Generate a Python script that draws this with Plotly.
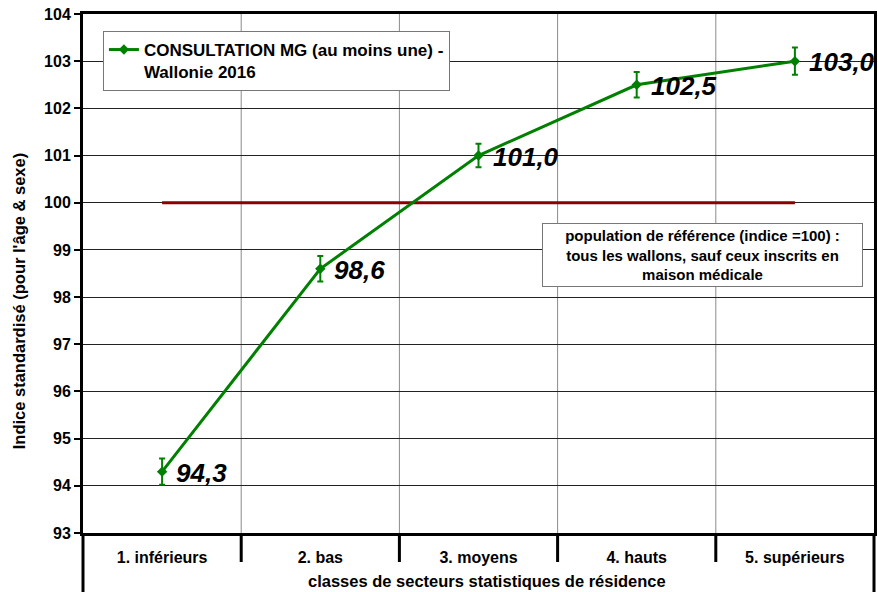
import plotly.graph_objects as go

categories = ["1. inférieurs", "2. bas", "3. moyens", "4. hauts", "5. supérieurs"]
positions = [1, 2, 3, 4, 5]
values = [94.3, 98.6, 101.0, 102.5, 103.0]
errors = [0.28, 0.27, 0.25, 0.27, 0.29]
ref_value = 100
y_ticks = list(range(93, 105))
series_name = "CONSULTATION MG (au moins une) -<br>Wallonie 2016"
y_title = "Indice standardisé (pour l'âge & sexe)"
x_title = "classes de secteurs statistiques de résidence"
note = "population de référence (indice =100) :<br>tous les wallons, sauf ceux inscrits en<br>maison médicale"

FONT = "Liberation Sans, Arial, sans-serif"
labels = [f"{v:.1f}".replace(".", ",") for v in values]

fig = go.Figure()
fig.add_trace(go.Scatter(
    x=[positions[0], positions[-1]], y=[ref_value, ref_value],
    mode="lines", line=dict(color="#8B0000", width=3),
    showlegend=False, hoverinfo="skip"))
fig.add_trace(go.Scatter(
    x=positions, y=values, name=series_name,
    mode="lines+markers",
    line=dict(color="#008000", width=3),
    marker=dict(symbol="diamond", size=8, color="#008000"),
    error_y=dict(type="data", array=errors, color="#008000", thickness=2, width=3),
    cliponaxis=False))

H = 519.0
W = 794.0
shapes = []
for b in [1.5, 2.5, 3.5, 4.5]:
    shapes.append(dict(type="line", xref="x", yref="paper", x0=b, x1=b, y0=0, y1=1,
                       line=dict(color="#8a8a8a", width=1), layer="below"))
    shapes.append(dict(type="line", xref="x", yref="paper", x0=b, x1=b, y0=0, y1=-29 / H,
                       line=dict(color="black", width=3)))
for xp in [0, 1]:
    shapes.append(dict(type="line", xref="paper", yref="paper", x0=xp, x1=xp, y0=0, y1=-59 / H,
                       line=dict(color="black", width=3)))

annotations = []
for px, v, lab in zip(positions, values, labels):
    annotations.append(dict(text=lab, xref="x", yref="y", x=px, y=v,
                            xanchor="left", yanchor="middle", xshift=12, yshift=-1,
                            showarrow=False,
                            font=dict(family=FONT, size=26, color="black",
                                      weight="bold", style="italic")))
annotations += [
    dict(text=x_title, xref="paper", yref="paper", x=(489 - 83) / W, y=-48 / H,
         xanchor="center", yanchor="middle", showarrow=False,
         font=dict(family=FONT, size=16.5, color="black", weight="bold")),
    dict(text=y_title, xref="paper", yref="paper", x=-64 / W, y=(533 - 301) / H,
         xanchor="center", yanchor="middle", textangle=-90, showarrow=False,
         font=dict(family=FONT, size=16.5, color="black", weight="bold")),
    dict(text=note, xref="paper", yref="paper", x=(705 - 83) / W, y=(533 - 254.5) / H,
         xanchor="center", yanchor="middle", showarrow=False, align="center",
         bgcolor="white", bordercolor="#777777", borderwidth=1, borderpad=3,
         width=313,
         font=dict(family=FONT, size=15, color="black", weight="bold")),
]

fig.update_layout(
    width=878, height=592,
    margin=dict(l=83, r=1, t=14, b=59),
    paper_bgcolor="white", plot_bgcolor="white",
    font=dict(family=FONT, color="black"),
    shapes=shapes,
    annotations=annotations,
    showlegend=True,
    legend=dict(x=20 / W, y=(533 - 31) / H, xanchor="left", yanchor="top",
                bgcolor="white", bordercolor="#777777", borderwidth=1,
                font=dict(family=FONT, size=17, color="black", weight="bold"),
                valign="top", itemwidth=30),
    xaxis=dict(range=[0.5, 5.5], tickvals=positions, ticktext=categories,
               showgrid=False, zeroline=False,
               showline=True, mirror=True, linecolor="black", linewidth=3,
               ticks="outside", ticklen=8, tickcolor="rgba(0,0,0,0)",
               tickfont=dict(family=FONT, size=16, color="black", weight="bold")),
    yaxis=dict(range=[93, 104], tickvals=y_ticks, showgrid=True, gridcolor="#222222",
               gridwidth=1, zeroline=False,
               showline=True, mirror=True, linecolor="black", linewidth=3,
               ticks="outside", ticklen=6, tickwidth=1.5, tickcolor="black",
               tickfont=dict(family=FONT, size=16, color="black", weight="bold")),
)

fig.write_html("out.html", config={"displayModeBar": False},
               post_script="document.body.style.margin='0px';")
